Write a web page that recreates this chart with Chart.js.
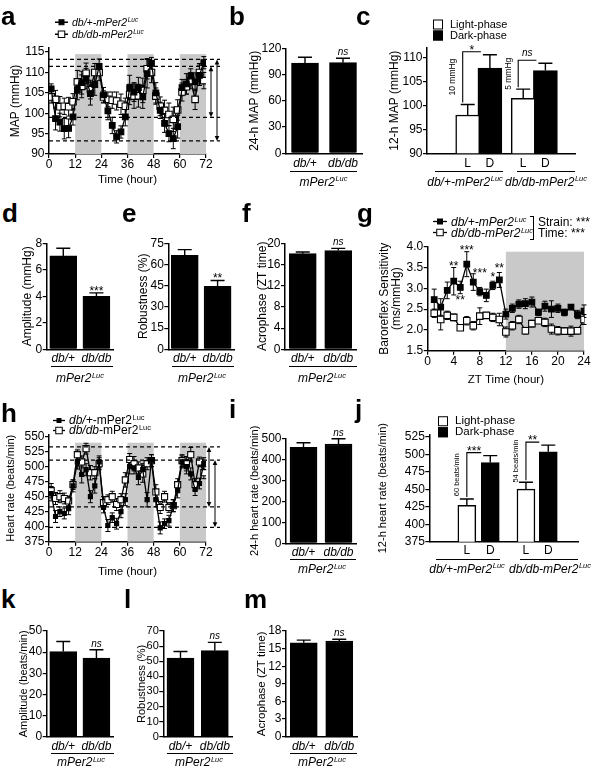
<!DOCTYPE html>
<html><head><meta charset="utf-8">
<script src="https://cdn.jsdelivr.net/npm/chart.js@4.4.1/dist/chart.umd.min.js"></script>
<style>
html,body{margin:0;padding:0;background:#fff;}
body{width:600px;height:773px;position:relative;overflow:hidden;font-family:"Liberation Sans",Arial,Helvetica,sans-serif;color:#000;}
canvas{position:absolute;}
.tx{position:absolute;white-space:nowrap;line-height:1;}
.row{position:absolute;white-space:nowrap;line-height:1;display:flex;align-items:center;transform:translate(0,-50%);}
.L{font-weight:bold;font-size:26px;}
.su{font-size:0.62em;position:relative;top:-0.55em;margin-left:0.5px;}
.gl{position:absolute;height:0;border-top:1.3px solid #000;}
</style></head><body>
<script>
// ---------------- DATA ----------------
const groups = ['db/+', 'db/db'];
const phaseLabels = ['L', 'D', 'L', 'D'];

// a: MAP time course (2-h bins)
const mapTime = [1,3,5,7,9,11,13,15,17,19,21,23,25,27,29,31,33,35,37,39,41,43,45,47,49,51,53,55,57,59,61,63,65,67,69,71];
const mapDbHet = [106.0,98.7,97.8,96.2,96.3,99.1,105.8,107.5,108.5,104.8,107.0,111.5,104.5,100.6,97.0,94.2,95.4,99.1,106.3,105.2,106.3,104.0,109.7,112.2,105.0,100.7,97.5,95.0,93.8,96.7,106.3,107.2,109.1,107.7,109.3,112.4];
const mapDbHetErr = [1.2,2.8,2.2,2.5,2.3,2.0,2.5,2.8,2.5,2.8,2.6,1.8,1.8,2.2,2.0,1.5,1.5,2.2,3.0,2.3,2.5,2.8,3.5,1.5,2.5,2.0,2.2,2.0,2.5,2.8,2.0,2.5,1.8,2.2,2.5,1.5];
const mapDbDb = [104.0,103.4,101.6,101.7,101.6,102.8,107.7,106.6,109.8,105.8,110.0,110.0,104.0,103.4,103.2,103.0,102.2,101.7,104.6,104.2,104.3,105.6,110.9,110.0,104.2,101.7,100.7,99.7,98.5,100.8,105.2,106.5,108.0,103.4,110.0,108.0];
const mapDbDbErr = [1.5,2.2,2.5,2.0,2.3,2.0,2.8,2.8,2.5,2.3,2.2,2.0,1.5,1.8,2.0,2.2,2.5,2.0,2.5,3.0,2.8,3.0,2.5,2.5,2.0,2.3,2.5,2.8,3.0,2.5,2.2,1.8,2.0,2.5,2.2,2.0];
const mapRefLines = [113.2, 111.5, 99.0, 93.2];
const darkPhases72 = [[12,24],[36,48],[60,72]];

// b
const map24 = [103.0, 103.6];
const map24Err = [6.8, 5.0];
// c
const map12Light = [98.0, 101.5];
const map12LightErr = [2.2, 1.9];
const map12Dark = [107.8, 107.3];
const map12DarkErr = [2.8, 1.5];
const map12Sig = ['*', 'ns'];
const map12Diff = ['10 mmHg', '5 mmHg'];
// d e f
const mapAmp = [7.05, 4.0];
const mapAmpErr = [0.58, 0.26];
const mapRob = [66.5, 44.5];
const mapRobErr = [4.0, 4.2];
const mapAcro = [18.05, 18.65];
const mapAcroErr = [0.3, 0.4];

// g: baroreflex sensitivity
const brsTime = [1,2,3,4,5,6,7,8,9,10,11,12,13,14,15,16,17,18,19,20,21,22,23,24];
const brsDbHet = [2.73,2.55,2.95,3.17,3.02,3.58,3.15,2.92,2.83,3.07,3.2,2.38,2.52,2.62,2.63,2.67,2.42,2.57,2.5,2.52,2.42,2.55,2.37,2.45];
const brsDbHetErr = [0.25,0.2,0.2,0.33,0.15,0.3,0.2,0.1,0.15,0.1,0.18,0.12,0.1,0.1,0.12,0.12,0.08,0.12,0.2,0.1,0.08,0.05,0.1,0.15];
const brsDbDb = [2.4,2.25,2.35,2.3,2.05,2.22,2.1,2.33,2.35,2.3,2.25,1.95,2.1,2.25,1.98,2.15,2.22,2.18,2.02,1.98,1.97,1.97,1.98,2.25];
const brsDbDbErr = [0.1,0.25,0.1,0.08,0.06,0.1,0.1,0.2,0.05,0.1,0.15,0.12,0.1,0.1,0.08,0.08,0.05,0.1,0.12,0.1,0.08,0.12,0.08,0.12];
const brsStarT = [4, 5, 6, 8, 10, 11];
const brsStarV = [3.6, 2.78, 3.98, 3.42, 3.32, 3.55];
const brsStarText = ['**', '**', '***', '***', '*', '**'];

// h: heart rate time course
const hrTime = [1,3,5,7,9,11,13,15,17,19,21,23,25,27,29,31,33,35,37,39,41,43,45,47,49,51,53,55,57,59,61,63,65,67,69,71];
const hrDbHet = [455,417,425,422,430,468,508,487,495,450,468,508,432,402,415,405,425,445,500,498,482,495,445,510,445,398,405,410,435,460,508,500,488,462,472,505];
const hrDbHetErr = [12,10,8,9,10,10,12,14,10,10,12,10,9,10,8,9,10,10,12,10,12,10,12,10,12,10,8,9,10,12,10,12,10,10,9,10];
const hrDbDb = [460,447,450,447,443,470,520,508,530,490,490,505,440,445,450,437,445,478,512,505,498,488,505,510,458,432,450,432,435,470,510,505,520,470,508,490];
const hrDbDbErr = [12,10,10,9,8,8,8,10,9,12,10,10,10,8,9,10,10,12,10,12,10,14,10,10,12,10,9,8,10,10,10,12,12,10,8,10];
const hrRefLines = [533, 511, 433, 399];
// i
const hr24 = [457, 473];
const hr24Err = [22, 25];
// j
const hr12Light = [427, 450];
const hr12LightErr = [9, 10];
const hr12Dark = [488, 503.5];
const hr12DarkErr = [10, 9.5];
const hr12Sig = ['***', '**'];
const hr12Diff = ['60 beats/min', '54 beats/min'];
// k l m
const hrAmp = [40.3, 37.2];
const hrAmpErr = [4.7, 3.9];
const hrRob = [52, 57];
const hrRobErr = [4.4, 5.5];
const hrAcro = [16.0, 16.3];
const hrAcroErr = [0.45, 0.3];

// ---------------- STYLE / HELPERS ----------------
const FF = '"Liberation Sans", Arial, Helvetica, sans-serif';
Chart.defaults.font.family = FF;
Chart.defaults.color = '#000';

function place(area, titleX, ts, bottomH, padR, padB) {
  padB = padB || 0;
  const left = Math.round(titleX - ts / 2);
  const top = Math.round(area.t - 24);
  const right = Math.round(area.r + padR);
  const bottom = Math.round(area.b + bottomH + padB);
  return {left, top, w: right - left, h: bottom - top, yW: area.l - left, xH: bottom - padB - area.b, padT: area.t - top, padR: right - area.r, padB};
}
function yAx(min, max, step, title, ts, yW, fmt, tfs) {
  return {type: 'linear', position: 'left', min, max,
    afterFit: s => { s.width = yW; },
    border: {display: true, color: '#000', width: 1.5},
    grid: {display: true, drawOnChartArea: false, drawTicks: true, tickLength: 4, color: '#000', lineWidth: 1.2},
    ticks: {stepSize: step, includeBounds: false, padding: 0.5, color: '#000', font: {size: tfs || 12, lineHeight: 1}, callback: fmt || (v => v)},
    title: {display: true, text: title, color: '#000', font: {size: ts, lineHeight: 1}, padding: 0}};
}
function xCat(xH, pad) {
  return {type: 'category', offset: true, afterFit: s => { s.height = xH; },
    grid: {display: false, drawTicks: false},
    border: {display: true, color: '#000', width: 1.5},
    ticks: {padding: pad, color: '#000', maxRotation: 0, minRotation: 0, autoSkip: false, font: {size: 12, lineHeight: 1, style: 'italic'}}};
}
function xSlots(xH, pad, slots, labels) {
  return {type: 'linear', min: 0, max: 10, afterFit: s => { s.height = xH; },
    afterBuildTicks: s => { s.ticks = slots.map(v => ({value: v})); },
    grid: {display: false, drawTicks: false},
    border: {display: true, color: '#000', width: 1.5},
    ticks: {padding: pad, color: '#000', autoSkip: false, maxRotation: 0, minRotation: 0, font: {size: 12, lineHeight: 1}, callback: (v, i) => labels[i]}};
}
function xLin(min, max, step, title, xH) {
  return {type: 'linear', min, max, afterFit: s => { s.height = xH; },
    border: {display: true, color: '#000', width: 1.5},
    grid: {display: true, drawOnChartArea: false, drawTicks: true, tickLength: 4, color: '#000', lineWidth: 1.2},
    ticks: {stepSize: step, padding: 1, color: '#000', maxRotation: 0, minRotation: 0, font: {size: 12, lineHeight: 1}},
    title: {display: true, text: title, color: '#000', font: {size: 11.5, lineHeight: 1}, padding: 0}};
}
function errPlugin(mode, cap, lw) {
  const draw = chart => {
    const {ctx, scales: {y}} = chart;
    chart.data.datasets.forEach((ds, i) => {
      if (!ds.errors) return;
      const meta = chart.getDatasetMeta(i);
      meta.data.forEach((el, j) => {
        const raw = ds.data[j];
        const v = typeof raw === 'object' ? raw.y : raw;
        const e = ds.errors[j];
        const yt = y.getPixelForValue(v + e);
        const yb = mode === 'both' ? y.getPixelForValue(v - e) : el.y;
        ctx.save(); ctx.strokeStyle = '#000'; ctx.lineWidth = lw;
        ctx.beginPath(); ctx.moveTo(el.x, yb); ctx.lineTo(el.x, yt);
        ctx.moveTo(el.x - cap / 2, yt); ctx.lineTo(el.x + cap / 2, yt);
        if (mode === 'both') { ctx.moveTo(el.x - cap / 2, yb); ctx.lineTo(el.x + cap / 2, yb); }
        ctx.stroke(); ctx.restore();
      });
    });
  };
  return mode === 'both' ? {id: 'err', beforeDatasetsDraw: draw} : {id: 'err', afterDatasetsDraw: draw};
}
function sigPlugin(labels) {
  return {id: 'sig', afterDatasetsDraw(chart) {
    const {ctx, scales: {y}} = chart;
    const ds = chart.data.datasets[0], meta = chart.getDatasetMeta(0);
    labels.forEach((t, j) => {
      if (!t) return;
      const el = meta.data[j];
      const yt = y.getPixelForValue(ds.data[j] + ds.errors[j]);
      ctx.save(); ctx.fillStyle = '#000'; ctx.textAlign = 'center'; ctx.textBaseline = 'alphabetic';
      ctx.font = t === 'ns' ? `italic 10px ${FF}` : `12px ${FF}`;
      ctx.fillText(t, el.x, t === 'ns' ? yt - 3 : yt + 2);
      ctx.restore();
    });
  }};
}
function bracketPlugin(sigs, diffs, vOff, diffFont) {
  return {id: 'br', afterDatasetsDraw(chart) {
    const {ctx, scales: {y}} = chart;
    const dL = chart.data.datasets[0], dD = chart.data.datasets[1];
    const mL = chart.getDatasetMeta(0), mD = chart.getDatasetMeta(1);
    sigs.forEach((s, j) => {
      const xL = mL.data[j].x + vOff, xD = mD.data[j].x - 9;
      const yb = y.getPixelForValue(dL.data[j].y + dL.errors[j]) - 2;
      const yt = y.getPixelForValue(dD.data[j].y + dD.errors[j]) - 3;
      ctx.save(); ctx.strokeStyle = '#000'; ctx.lineWidth = 1.1;
      ctx.beginPath(); ctx.moveTo(xL, yb); ctx.lineTo(xL, yt); ctx.lineTo(xD, yt); ctx.stroke();
      ctx.fillStyle = '#000'; ctx.textAlign = 'center'; ctx.textBaseline = 'alphabetic';
      ctx.font = s === 'ns' ? `italic 10px ${FF}` : `12px ${FF}`;
      ctx.fillText(s, (xL + xD) / 2, s === 'ns' ? yt - 4 : yt + 2);
      ctx.translate(xL - 10, (yb + yt) / 2); ctx.rotate(-Math.PI / 2);
      ctx.font = diffFont; ctx.textBaseline = 'middle'; ctx.fillText(diffs[j], 0, 0);
      ctx.restore();
    });
  }};
}
function shadePlugin(ranges, topVal) {
  return {id: 'shade', beforeDatasetsDraw(chart) {
    const {ctx, chartArea: ca, scales: {x, y}} = chart;
    const top = y.getPixelForValue(topVal);
    ctx.save(); ctx.fillStyle = '#c9c9c9';
    ranges.forEach(([s, e]) => { const x1 = x.getPixelForValue(s), x2 = x.getPixelForValue(e); ctx.fillRect(x1, top, x2 - x1, ca.bottom - top); });
    ctx.restore();
  }};
}
function refPlugin(vals, arrows, ext) {
  return {id: 'ref', afterDatasetsDraw(chart) {
    const {ctx, chartArea: ca, scales: {y}} = chart;
    ctx.save(); ctx.strokeStyle = '#000'; ctx.fillStyle = '#000'; ctx.lineWidth = 1.2; ctx.setLineDash([4, 3]);
    vals.forEach(v => { const py = y.getPixelForValue(v); ctx.beginPath(); ctx.moveTo(ca.left, py); ctx.lineTo(ca.right + ext, py); ctx.stroke(); });
    ctx.setLineDash([]); ctx.lineWidth = 1;
    arrows.forEach(([a, b, dx]) => {
      const y1 = y.getPixelForValue(vals[a]), y2 = y.getPixelForValue(vals[b]), x = ca.right + dx;
      ctx.beginPath(); ctx.moveTo(x, y1 + 3); ctx.lineTo(x, y2 - 3); ctx.stroke();
      ctx.beginPath(); ctx.moveTo(x, y1); ctx.lineTo(x - 2.3, y1 + 5); ctx.lineTo(x + 2.3, y1 + 5); ctx.closePath(); ctx.fill();
      ctx.beginPath(); ctx.moveTo(x, y2); ctx.lineTo(x - 2.3, y2 - 5); ctx.lineTo(x + 2.3, y2 - 5); ctx.closePath(); ctx.fill();
    });
    ctx.restore();
  }};
}
function starsAt(ts, vs, texts) {
  return {id: 'stars', afterDatasetsDraw(chart) {
    const {ctx, scales: {x, y}} = chart;
    ctx.save(); ctx.fillStyle = '#000'; ctx.font = `12px ${FF}`; ctx.textAlign = 'center'; ctx.textBaseline = 'middle';
    texts.forEach((t, i) => ctx.fillText(t, x.getPixelForValue(ts[i]), y.getPixelForValue(vs[i]) + 3));
    ctx.restore();
  }};
}
function makeCanvas(p) {
  const c = document.createElement('canvas');
  c.width = p.w; c.height = p.h;
  c.style.left = p.left + 'px'; c.style.top = p.top + 'px';
  c.style.width = p.w + 'px'; c.style.height = p.h + 'px';
  document.body.appendChild(c);
  return c.getContext('2d');
}
function baseOpts(p, scales) {
  return {responsive: false, animation: false, events: [],
    layout: {padding: {top: p.padT, right: p.padR, bottom: p.padB, left: 0}},
    plugins: {legend: {display: false}, tooltip: {enabled: false}},
    scales};
}
function barPanel(area, titleX, ts, yMin, yMax, yStep, yTitle, vals, errs, sig, tickPad, tfs) {
  const p = place(area, titleX, ts, 17, 4, 24);
  new Chart(makeCanvas(p), {
    type: 'bar',
    data: {labels: groups, datasets: [{data: vals, errors: errs, backgroundColor: '#000', borderColor: '#000', borderWidth: 1.5, barThickness: 27}]},
    options: baseOpts(p, {x: xCat(p.xH, tickPad), y: yAx(yMin, yMax, yStep, yTitle, ts, p.yW, null, tfs)}),
    plugins: [errPlugin('up', 14, 1.4), sigPlugin(sig)]
  });
}
function phasePanel(area, titleX, ts, yMin, yMax, yStep, yTitle, slots, light, lightErr, dark, darkErr, bw, sigs, diffs, vOff, diffFont, tickPad) {
  const p = place(area, titleX, ts, 17, 4, 24);
  new Chart(makeCanvas(p), {
    type: 'bar',
    data: {datasets: [
      {data: light.map((v, i) => ({x: slots[i * 2], y: v})), errors: lightErr, grouped: false, backgroundColor: '#fff', borderColor: '#000', borderWidth: 1.5, barThickness: bw},
      {data: dark.map((v, i) => ({x: slots[i * 2 + 1], y: v})), errors: darkErr, grouped: false, backgroundColor: '#000', borderColor: '#000', borderWidth: 1.5, barThickness: bw}
    ]},
    options: baseOpts(p, {x: xSlots(p.xH, tickPad, slots, phaseLabels), y: yAx(yMin, yMax, yStep, yTitle, ts, p.yW)}),
    plugins: [errPlugin('up', 14, 1.4), bracketPlugin(sigs, diffs, vOff, diffFont)]
  });
}
function lineDs(ts, vs, es, filled, r) {
  return {data: ts.map((t, i) => ({x: t, y: vs[i]})), errors: es, borderColor: '#000', borderWidth: 1.3, tension: 0,
    pointStyle: 'rect', pointRadius: r, pointBackgroundColor: filled ? '#000' : '#fff', pointBorderColor: '#000', pointBorderWidth: 1.1};
}

// ---------------- PANELS ----------------
// a
(function () {
  const area = {l: 49, t: 48, r: 206, b: 154};
  const p = place(area, 16, 12, 32, 18);
  new Chart(makeCanvas(p), {type: 'line',
    data: {datasets: [lineDs(mapTime, mapDbHet, mapDbHetErr, true, 4.0), lineDs(mapTime, mapDbDb, mapDbDbErr, false, 4.6)]},
    options: baseOpts(p, {x: xLin(0, 72, 12, 'Time (hour)', p.xH), y: yAx(90, 116, 5, 'MAP (mmHg)', 12, p.yW)}),
    plugins: [shadePlugin(darkPhases72, 114.5), errPlugin('both', 5, 1), refPlugin(mapRefLines, [[1, 2, 5], [0, 3, 11]], 14)]});
})();
barPanel({l: 286, t: 48.3, r: 362, b: 153.3}, 255, 12, 0, 120, 30, '24-h MAP (mmHg)', map24, map24Err, ['', 'ns'], 4.5);
phasePanel({l: 427, t: 48, r: 575, b: 153.3}, 395, 12, 90, 112, 5, '12-h MAP (mmHg)', [2, 4, 7, 9], map12Light, map12LightErr, map12Dark, map12DarkErr, 24, map12Sig, map12Diff, -5, `8.5px ${FF}`, 4.5);
barPanel({l: 46.7, t: 243.3, r: 113, b: 349.3}, 28, 12, 0, 8, 2, 'Amplitude (mmHg)', mapAmp, mapAmpErr, ['', '***'], 3);
barPanel({l: 168.3, t: 243.3, r: 234, b: 349.3}, 144, 12, 0, 75, 15, 'Robustness (%)', mapRob, mapRobErr, ['', '**'], 3);
barPanel({l: 285, t: 243.3, r: 356, b: 349.3}, 263, 12, 0, 20, 4, 'Acrophase (ZT time)', mapAcro, mapAcroErr, ['', 'ns'], 3);
// g
(function () {
  const area = {l: 427.7, t: 246.7, r: 584, b: 350.7};
  const p = place(area, 385, 12, 35.3, 10);
  new Chart(makeCanvas(p), {type: 'line',
    data: {datasets: [lineDs(brsTime, brsDbHet, brsDbHetErr, true, 4.0), lineDs(brsTime, brsDbDb, brsDbDbErr, false, 4.6)]},
    options: baseOpts(p, {x: xLin(0, 24, 4, 'ZT Time (hour)', p.xH), y: yAx(1.5, 4.0, 0.5, ['Baroreflex Sensitivity', '(ms/mmHg)'], 12, p.yW, v => v.toFixed(1))}),
    plugins: [shadePlugin([[12, 24]], 3.88), errPlugin('both', 5, 1), starsAt(brsStarT, brsStarV, brsStarText)]});
})();
// h
(function () {
  const area = {l: 49, t: 434.9, r: 206, b: 541.7};
  const p = place(area, 10, 11, 36.3, 18);
  new Chart(makeCanvas(p), {type: 'line',
    data: {datasets: [lineDs(hrTime, hrDbHet, hrDbHetErr, true, 2.9), lineDs(hrTime, hrDbDb, hrDbDbErr, false, 4.3)]},
    options: baseOpts(p, {x: xLin(0, 72, 12, 'Time (hour)', p.xH), y: yAx(375, 553, 25, 'Heart rate (beats/min)', 11, p.yW)}),
    plugins: [shadePlugin(darkPhases72, 540), errPlugin('both', 5, 1), refPlugin(hrRefLines, [[0, 2, 3], [1, 3, 9]], 14)]});
})();
barPanel({l: 286, t: 438.3, r: 356, b: 543.3}, 254, 11, 0, 500, 100, '24-h heart rate (beats/min)', hr24, hr24Err, ['', 'ns'], 3);
phasePanel({l: 429.3, t: 434.6, r: 578, b: 541.7}, 382, 11, 375, 528, 25, '12-h heart rate (beats/min)', [1.7, 3.8, 7, 9], hr12Light, hr12LightErr, hr12Dark, hr12DarkErr, 18, hr12Sig, hr12Diff, 0, `7.5px ${FF}`, 3);
barPanel({l: 46.7, t: 631, r: 113, b: 736.7}, 23, 11, 0, 50, 10, 'Amplitude (beats/min)', hrAmp, hrAmpErr, ['', 'ns'], 4);
barPanel({l: 163.3, t: 631, r: 232, b: 736.7}, 141, 11, 0, 70, 10, 'Robustness (%)', hrRob, hrRobErr, ['', 'ns'], 4, 11);
barPanel({l: 286, t: 631, r: 357, b: 736.7}, 262, 11.5, 0, 18, 3, 'Acrophase (ZT time)', hrAcro, hrAcroErr, ['', 'ns'], 4);

// ---------------- TEXT / LEGENDS ----------------
function put(x, y, html, css, anchor) {
  const d = document.createElement('div');
  d.className = 'tx'; d.innerHTML = html;
  if (css) d.style.cssText += css;
  d.style.left = x + 'px'; d.style.top = y + 'px';
  d.style.transform = anchor === 'l' ? 'translate(0,-50%)' : anchor === 'tl' ? 'none' : 'translate(-50%,-50%)';
  document.body.appendChild(d);
  return d;
}
function hline(x1, x2, y) {
  const d = document.createElement('div'); d.className = 'gl';
  d.style.left = x1 + 'px'; d.style.top = y + 'px'; d.style.width = (x2 - x1) + 'px';
  document.body.appendChild(d);
}
function mark(filled, sq, len) {
  return `<svg width="${len}" height="9" style="margin-right:4px;flex:none"><line x1="0" y1="4.5" x2="${len}" y2="4.5" stroke="#000" stroke-width="1.3"/>` +
    `<rect x="${len / 2 - sq / 2}" y="${4.5 - sq / 2}" width="${sq}" height="${sq}" fill="${filled ? '#000' : '#fff'}" stroke="#000" stroke-width="1"/></svg>`;
}
function row(x, y, html, fs) {
  const d = document.createElement('div'); d.className = 'row';
  d.style.left = x + 'px'; d.style.top = y + 'px'; d.style.fontSize = fs + 'px';
  d.innerHTML = html; document.body.appendChild(d);
}
function box(filled) {
  return `<span style="display:inline-block;width:8px;height:8px;border:1.3px solid #000;background:${filled ? '#000' : '#fff'};margin-right:7px;flex:none"></span>`;
}
const strain = 'mPer2<span class="su">Luc</span>';

// panel letters
[['a', 1, 25], ['b', 229, 25], ['c', 356, 25], ['d', 2, 222], ['e', 122, 222], ['f', 242, 222], ['g', 357, 222],
 ['h', 1, 422], ['i', 229, 418], ['j', 355, 418], ['k', 1, 608], ['l', 124, 608], ['m', 244, 608]]
  .forEach(([t, x, b]) => put(x, b - 22, t, '', 'tl').classList.add('L'));

// legends
row(55, 22, mark(true, 5, 13) + `<i>db/+-${strain}</i>`, 10.5);
row(55, 34, mark(false, 6.5, 13) + `<i>db/db-${strain}</i>`, 10.5);
row(433, 24, box(false) + 'Light-phase', 11);
row(433, 35, box(true) + 'Dark-phase', 11);
row(433, 221.7, mark(true, 5, 14) + `<i>db/+-${strain}</i>`, 12);
row(433, 232.7, mark(false, 6.5, 14) + `<i>db/db-${strain}</i>`, 12);
(function () { const d = document.createElement('div'); d.style.cssText = 'position:absolute;left:530px;top:216px;width:3px;height:22px;border:1.2px solid #000;border-left:none;'; document.body.appendChild(d); })();
put(538, 221.7, 'Strain: ***', 'font-size:12px', 'l');
put(538, 232.7, 'Time: ***', 'font-size:12px', 'l');
row(53, 420, mark(true, 4, 12) + `<span><i>db/+</i>-${strain}</span>`, 12);
row(53, 430, mark(false, 6.5, 12) + `<span><i>db/db</i>-${strain}</span>`, 12);
row(438, 421, box(false) + 'Light-phase', 11.5);
row(438, 432, box(true) + 'Dark-phase', 11.5);

// group labels under bar charts
[[290, 357, 171, 323.5, 181.5], [51, 113, 366, 80, 378], [172, 234, 366, 202, 378], [289, 357, 366, 322, 378],
 [290, 356, 559, 322, 569], [51, 114, 752.5, 81, 762], [167, 233, 752.5, 199, 762], [290, 357, 752.5, 322, 762]]
  .forEach(([x1, x2, ly, tx, ty]) => { hline(x1, x2, ly); put(tx, ty, `<i>${strain}</i>`, 'font-size:12px'); });
hline(435, 503, 171); hline(517, 575, 171);
put(465, 181.5, `<i>db/+-${strain}</i>`, 'font-size:12px');
put(546, 181.5, `<i>db/db-${strain}</i>`, 'font-size:12px');
hline(436, 500, 559); hline(520, 578, 559);
put(467, 568.5, `<i>db/+-${strain}</i>`, 'font-size:12px');
put(550, 568.5, `<i>db/db-${strain}</i>`, 'font-size:12px');
</script>
</body></html>
